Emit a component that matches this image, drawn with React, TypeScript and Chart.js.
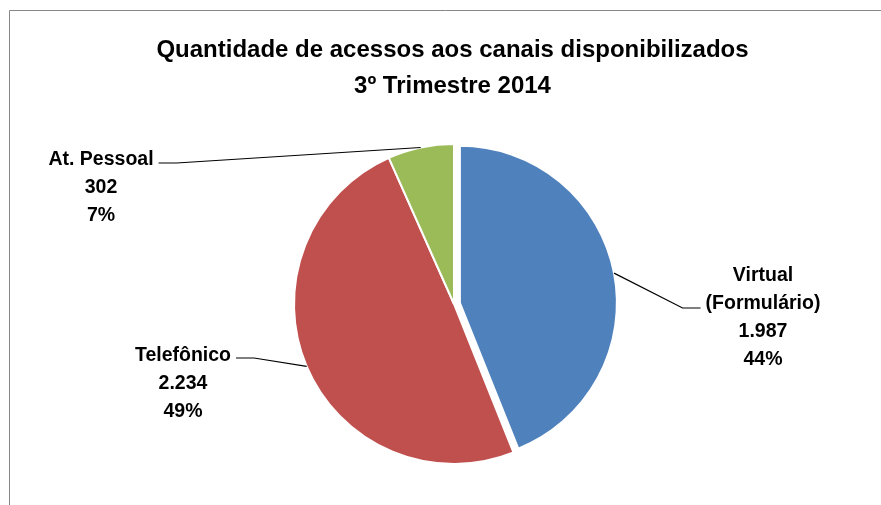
import React, { useEffect, useRef } from "react";
import { Chart, registerables } from "chart.js";

Chart.register(...registerables);

const TITLE_LINES = ["Quantidade de acessos aos canais disponibilizados", "3º Trimestre 2014"];
const CATEGORIES: string[][] = [["Virtual", "(Formulário)"], ["Telefônico"], ["At. Pessoal"]];
const VALUES = [1987, 2234, 302];
const COLORS = ["#4F81BD", "#C0504D", "#9BBB59"];
// exploded slice: distance pulled out, and how much smaller its radius is drawn
const EXPLODE = [6, 0, 0];
const EXPLODE_SHRINK = [3, 0, 0];

// annotation layout (text block centre x, first baseline, side the leader line attaches to, leader y)
const LABEL_LAYOUT = [
  { cx: 763, baseline: 281, side: "left", attachY: 308 },
  { cx: 183, baseline: 361, side: "right", attachY: 358 },
  { cx: 101, baseline: 165, side: "right", attachY: 163 },
];

const W = 881;
const H = 505;
const FONT = '"Liberation Sans", Arial, sans-serif';

function fmtThousands(v: number): string {
  const s = String(Math.round(v));
  return s.replace(/\B(?=(\d{3})+(?!\d))/g, ".");
}

const overlayPlugin = {
  id: "overlay",
  afterDatasetsUpdate(chart: any) {
    const meta = chart.getDatasetMeta(0);
    meta.data.forEach((arc: any, i: number) => {
      const e = EXPLODE[i] || 0;
      if (!e) return;
      const mid = (arc.startAngle + arc.endAngle) / 2;
      arc.x += Math.cos(mid) * e;
      arc.y += Math.sin(mid) * e;
      arc.outerRadius -= EXPLODE_SHRINK[i] || 0;
    });
  },
  beforeDraw(chart: any) {
    const ctx: CanvasRenderingContext2D = chart.ctx;
    ctx.save();
    ctx.fillStyle = "#ffffff";
    ctx.fillRect(0, 0, W, H);
    // frame
    ctx.strokeStyle = "#868686";
    ctx.lineWidth = 1;
    ctx.beginPath();
    ctx.moveTo(9.5, H);
    ctx.lineTo(9.5, 10.5);
    ctx.lineTo(W, 10.5);
    ctx.stroke();
    // title
    ctx.fillStyle = "#000000";
    ctx.font = `bold 24px ${FONT}`;
    ctx.textAlign = "center";
    ctx.textBaseline = "alphabetic";
    ctx.fillText(TITLE_LINES[0], 452.5, 57);
    ctx.fillText(TITLE_LINES[1], 452.5, 93);
    ctx.restore();
  },
  afterDatasetsDraw(chart: any) {
    const ctx: CanvasRenderingContext2D = chart.ctx;
    const meta = chart.getDatasetMeta(0);
    const total = VALUES.reduce((a, b) => a + b, 0);
    ctx.save();
    ctx.font = `bold 19.5px ${FONT}`;
    ctx.fillStyle = "#000000";
    ctx.textAlign = "center";
    ctx.textBaseline = "alphabetic";
    meta.data.forEach((arc: any, i: number) => {
      const mid = (arc.startAngle + arc.endAngle) / 2;
      const ex = arc.x + Math.cos(mid) * arc.outerRadius;
      const ey = arc.y + Math.sin(mid) * arc.outerRadius;
      const lines = [
        ...CATEGORIES[i],
        fmtThousands(VALUES[i]),
        Math.round((VALUES[i] / total) * 100) + "%",
      ];
      const lay = LABEL_LAYOUT[i];
      const maxW = Math.max(...lines.map((l) => ctx.measureText(l).width));
      const dir = lay.side === "left" ? -1 : 1;
      const ax = lay.cx + dir * (maxW / 2 + 5);
      const bx = ax + dir * 18;
      ctx.strokeStyle = "#000000";
      ctx.lineWidth = 1.2;
      ctx.beginPath();
      ctx.moveTo(ax, lay.attachY);
      ctx.lineTo(bx, lay.attachY);
      ctx.lineTo(ex, ey);
      ctx.stroke();
      lines.forEach((l, k) => {
        ctx.fillText(l, lay.cx, lay.baseline + k * 28);
      });
    });
    ctx.restore();
  },
};

export default function App() {
  const ref = useRef<HTMLCanvasElement | null>(null);
  useEffect(() => {
    if (!ref.current) return;
    const chart = new Chart(ref.current, {
      type: "pie",
      data: {
        labels: CATEGORIES.map((c) => c.join(" ")),
        datasets: [
          {
            data: VALUES,
            backgroundColor: COLORS,
            borderColor: "#ffffff",
            borderWidth: 2,
            radius: 160,
          } as any,
        ],
      },
      options: {
        responsive: false,
        animation: false,
        layout: { padding: { left: 127, right: 100, top: 130, bottom: 27 } },
        plugins: {
          legend: { display: false },
          tooltip: { enabled: false },
          title: { display: false },
        },
      },
      plugins: [overlayPlugin],
    });
    return () => chart.destroy();
  }, []);
  return (
    <div style={{ position: "absolute", left: 0, top: 0, width: W, height: H }}>
      <canvas ref={ref} width={W} height={H} style={{ display: "block" }} />
    </div>
  );
}
